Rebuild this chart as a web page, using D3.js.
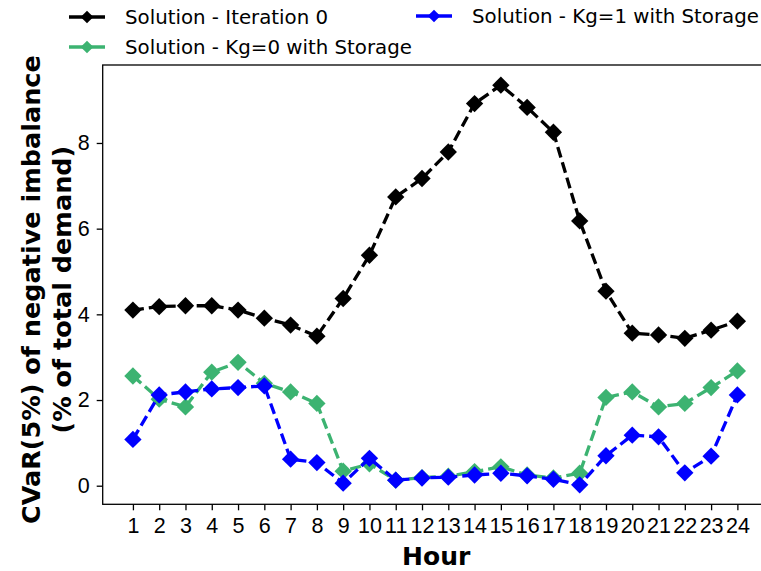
<!DOCTYPE html>
<html>
<head>
<meta charset="utf-8">
<script src="https://cdn.jsdelivr.net/npm/d3@7"></script>
<style>
  body { margin: 0; background: #fff; }
  svg { font-family: "DejaVu Sans", sans-serif; }
</style>
</head>
<body>
<svg id="chart" width="761" height="571"></svg>
<script>
var hours = d3.range(1, 25);
var yTicks = [0, 2, 4, 6, 8];

var iter0 = [4.10, 4.18, 4.20, 4.20, 4.10, 3.91, 3.75, 3.49, 4.37, 5.38, 6.74, 7.17,
             7.79, 8.92, 9.35, 8.83, 8.25, 6.18, 4.54, 3.56, 3.52, 3.44, 3.63, 3.84];
var kg0 = [2.56, 2.02, 1.84, 2.65, 2.88, 2.39, 2.19, 1.92, 0.34, 0.51, 0.13, 0.19,
           0.22, 0.33, 0.44, 0.25, 0.18, 0.29, 2.06, 2.19, 1.84, 1.92, 2.29, 2.68];
var kg1 = [1.08, 2.12, 2.19, 2.26, 2.29, 2.33, 0.62, 0.54, 0.06, 0.64, 0.13, 0.18,
           0.20, 0.25, 0.29, 0.23, 0.15, 0.02, 0.70, 1.18, 1.14, 0.30, 0.69, 2.12];

var seriesNames = ["Solution - Iteration 0", "Solution - Kg=0 with Storage", "Solution - Kg=1 with Storage"];
var seriesColors = ["#000000", "#3cb371", "#0000ff"];
var seriesValues = [iter0, kg0, kg1];

var svg = d3.select("#chart");

var pLeft = 102.7, pRight = 767.6, pTop = 65, pBottom = 504.3;

var x = d3.scaleLinear().domain([-0.15, 25.15]).range([pLeft, pRight]);
var y = d3.scaleLinear().domain([-0.434, 9.82]).range([pBottom, pTop]);

// frame
svg.append("rect")
  .attr("x", pLeft).attr("y", pTop)
  .attr("width", pRight - pLeft).attr("height", pBottom - pTop)
  .attr("fill", "none").attr("stroke", "#000").attr("stroke-width", 1.3);

var xAxis = svg.append("g")
  .attr("transform", "translate(0," + pBottom + ")")
  .call(d3.axisBottom(x).tickValues(hours).tickFormat(d3.format("d")).tickSize(6).tickPadding(7));
xAxis.select(".domain").remove();
xAxis.selectAll("text").attr("font-size", 21.5).attr("fill", "#000");
xAxis.selectAll("line").attr("stroke-width", 1.3);

var yAxis = svg.append("g")
  .attr("transform", "translate(" + pLeft + ",0)")
  .call(d3.axisLeft(y).tickValues(yTicks).tickSize(6).tickPadding(7));
yAxis.select(".domain").remove();
yAxis.selectAll("text").attr("font-size", 21.5).attr("fill", "#000");
yAxis.selectAll("line").attr("stroke-width", 1.3);

// axis titles
svg.append("text")
  .attr("x", (pLeft + pRight) / 2 + 1).attr("y", 565)
  .attr("text-anchor", "middle")
  .attr("font-size", 25).attr("font-weight", "bold")
  .text("Hour");

var yl = svg.append("text")
  .attr("transform", "translate(40," + ((pTop + pBottom) / 2 + 5) + ") rotate(-90)")
  .attr("text-anchor", "middle")
  .attr("font-size", 25.5).attr("font-weight", "bold");
yl.append("tspan").attr("x", 0).attr("dy", 0).text("CVaR(5%) of negative imbalance");
yl.append("tspan").attr("x", 0).attr("dy", 31).text("(% of total demand)");

var line = d3.line()
  .x(function(d, i){ return x(hours[i]); })
  .y(function(d){ return y(d); });

var diamond = d3.symbol().type(d3.symbolSquare).size(150);

seriesValues.forEach(function(vals, s){
  var g = svg.append("g");
  g.append("path")
    .attr("d", line(vals))
    .attr("fill", "none")
    .attr("stroke", seriesColors[s])
    .attr("stroke-width", 3.3)
    .attr("stroke-dasharray", "11,5");
  g.selectAll("path.pt").data(vals)
    .enter()
    .append("path")
    .attr("class", "pt")
    .attr("d", diamond)
    .attr("transform", function(d, i){
      return "translate(" + x(hours[i]) + "," + y(d) + ") rotate(45)";
    })
    .attr("fill", seriesColors[s]);
});

// legend
var legendPos = [[87, 17], [87, 47], [434, 16]];
var legendSymbol = d3.symbol().type(d3.symbolSquare).size(80);
seriesNames.forEach(function(name, s){
  var lg = svg.append("g").attr("transform", "translate(" + legendPos[s][0] + "," + legendPos[s][1] + ")");
  lg.append("line")
    .attr("x1", -18).attr("x2", 18)
    .attr("stroke", seriesColors[s]).attr("stroke-width", 3.3);
  lg.append("path")
    .attr("d", legendSymbol)
    .attr("transform", "rotate(45)")
    .attr("fill", seriesColors[s]);
  lg.append("text")
    .attr("x", 38).attr("y", 0).attr("dy", "0.35em")
    .attr("font-size", 19.8)
    .text(name);
});
</script>
</body>
</html>
